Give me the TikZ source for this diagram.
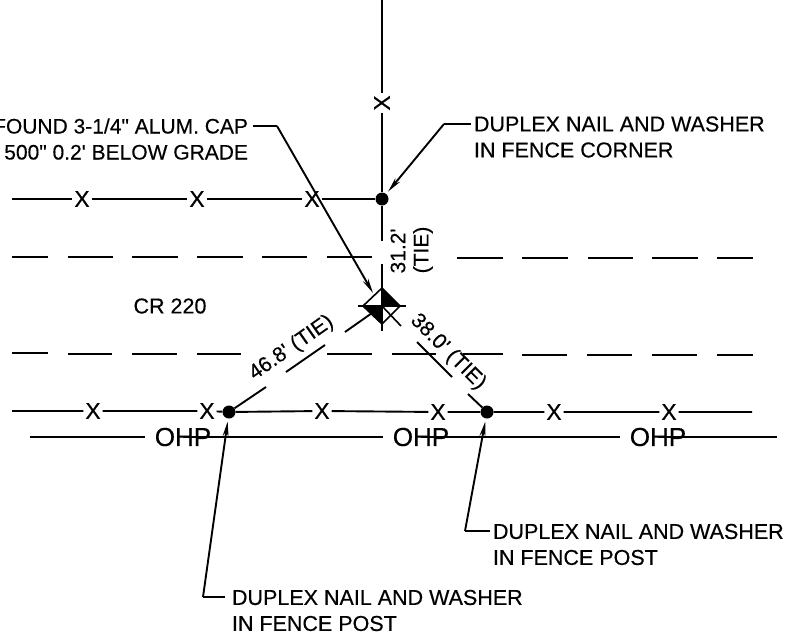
\documentclass[tikz,border=0pt]{standalone}
\usepackage{fontspec}
\setmainfont[Ligatures=TeXOff,FakeStretch=1.0]{Liberation Sans}
\newfontfamily\hv[Ligatures=TeXOff,FakeBold=0.35]{Liberation Sans}
\usetikzlibrary{arrows.meta}
\tikzset{
 lbl/.style={inner sep=0pt,outer sep=0pt,font=\hv\fontsize{21.5}{26}\selectfont,align=left,anchor=west,text=black},
 small/.style={inner sep=0pt,outer sep=0pt,font=\hv\fontsize{21}{24}\selectfont,text=black},
 xm/.style={inner xsep=2pt,inner ysep=0pt,outer sep=0pt,font=\hv\fontsize{23}{24}\selectfont,text=black},
 ohp/.style={inner xsep=10pt,inner ysep=0pt,outer sep=0pt,font=\hv\fontsize{26}{28}\selectfont,text=black},
 ln/.style={line width=1.9pt,black},
 arr/.style={ln,shorten >=3pt,-{Stealth[length=15pt,width=6pt]}},
 dot/.style={circle,fill=black,inner sep=0pt,minimum size=13pt},
 mk/.style={line width=1.6pt,black},
}
\begin{document}
\begin{tikzpicture}[x=1pt,y=-1pt]
\useasboundingbox (0,0) rectangle (798,637);
\fill[white] (0,0) rectangle (798,637);
% road dashed
\draw[ln] (12,257)--(48,257) (68,257)--(113,257) (132,257)--(178,257) (197,257)--(243,257) (262,257)--(307,257) (327,257)--(372,257) (457,258)--(503,258) (522,258)--(568,258) (588,258)--(633,258) (652,258)--(698,258) (717,258)--(753,258);
\draw[ln] (12,353)--(48,353) (68,354)--(112,354) (132,354)--(177,354) (197,354)--(241,354) (327,354)--(372,354) (392,354)--(436,354) (463,354)--(503,354) (522,355)--(567,355) (587,355)--(632,355) (652,355)--(697,355) (717,355)--(753,355);
% fence vertical
\coordinate (vt) at (382,0);
\node[dot] (d1) at (382,199) {};
\node[xm,rotate=90] (xv) at (382,103) {X};
\node (mon) at (382,306) [inner sep=0pt,minimum size=1pt] {};
\coordinate (vb) at (382,241);
\coordinate (vm) at (382,264);
\draw[ln] (vt)--(xv) (xv)--(d1) (d1)--(vb);
\draw[ln] (vm)--(mon.center);
% upper fence
\coordinate (f1a) at (12,199);
\node[xm] (x1) at (82,199) {X};
\node[xm] (x2) at (197,199) {X};
\node[xm] (x3) at (312,199) {X};
\draw[ln] (f1a)--(x1) (x1)--(x2) (x2)--(x3) (x3)--(d1);
% lower fence
\coordinate (f2a) at (12,411); \coordinate (f2b) at (752,412);
\node[dot] (d2) at (229,412) {};
\node[dot] (d3) at (487,412) {};
\node[xm] (x4) at (93,411) {X};
\node[xm] (x5) at (207,411) {X};
\node[xm] (x6) at (322,411) {X};
\node[xm] (x7) at (438,412) {X};
\node[xm] (x8) at (554,412) {X};
\node[xm] (x9) at (669,412) {X};
\draw[ln] (f2a)--(x4) (x4)--(x5) (x5)--(d2) (d2)--(x6) (x6)--(x7) (x7)--(d3) (d3)--(x8) (x8)--(x9) (x9)--(f2b);
% OHP
\coordinate (o1) at (30,437); \coordinate (o2) at (777,437);
\node[ohp] (p1) at (183,437) {OHP};
\node[ohp] (p2) at (421,437) {OHP};
\node[ohp] (p3) at (658,437) {OHP};
\draw[ln] (o1)--(p1.west);
\draw[ln] (p1.center)--(p2.west);
\draw[ln] (p2.center)--(p3.west);
\draw[ln] (p3.center)--(o2);
% monument
\coordinate (mN) at (382,288); \coordinate (mS) at (382,324);
\coordinate (mW) at (363,306); \coordinate (mE) at (400,306);
\fill[white] (mN)--(mE)--(mS)--(mW)--cycle;
\fill[black] (mN)--(mE)--(mon.center)--cycle;
\fill[black] (mS)--(mW)--(mon.center)--cycle;
\draw[mk] (mN)--(mE)--(mS)--(mW)--cycle;
\draw[mk] (358,306)--(406,306) (382,280)--(382,331);
\draw[mk] (mon.center)--(401,326);
% tie lines
\coordinate (t2a) at (345,332); \coordinate (t2c) at (286,372); \coordinate (t2d) at (325,345); \coordinate (t2b) at (266,387);
\coordinate (t3a) at (417,342); \coordinate (t3b) at (452,377); \coordinate (t3c) at (468,394);
\draw[ln] (t2a)--(mon.center);
\draw[ln] (t2c)--(t2d);
\draw[ln] (t2b)--(d2);
\draw[ln] (t3a)--(t3b);
\draw[ln] (t3c)--(d3);
% tie labels
\node[small,rotate=90] (l1) at (398,251) {31.2'};
\node[small,rotate=90] (l2) at (423,250) {(TIE)};
\node[small,rotate=35] (l4) at (291.5,348) {46.8' (TIE)};
\node[small,rotate=-45] (l5) at (448,352) {38.0' (TIE)};
% labels
\node[lbl,align=right,anchor=east,font=\hv\fontsize{21}{26}\selectfont] (n1) at (248,139) {FOUND 3-1/4" ALUM. CAP\\500" 0.2' BELOW GRADE};
\node[lbl,anchor=center] (cr) at (170,306) {CR 220};
\node[lbl] (n2) at (474,137) {DUPLEX NAIL AND WASHER\\IN FENCE CORNER};
\node[lbl] (n3) at (493,544.5) {DUPLEX NAIL AND WASHER\\IN FENCE POST};
\node[lbl] (n4) at (232,610.5) {DUPLEX NAIL AND WASHER\\IN FENCE POST};
% leaders
\coordinate (a1) at (253,126); \coordinate (a1b) at (277,126); \coordinate (a1t) at (373,293);
\coordinate (a2) at (471,124); \coordinate (a2b) at (444,124);
\coordinate (a3) at (490,531); \coordinate (a3b) at (465,531);
\coordinate (a4) at (225,597); \coordinate (a4b) at (203,597);
\draw[ln] (a1)--(a1b);
\draw[arr,shorten >=0pt] (a1b)--(a1t);
\draw[ln] (a2)--(a2b);
\draw[arr] (a2b)--(d1);
\draw[ln] (a3)--(a3b);
\draw[arr] (a3b)--(d3);
\draw[ln] (a4)--(a4b);
\draw[arr] (a4b)--(d2);
\end{tikzpicture}
\end{document}
